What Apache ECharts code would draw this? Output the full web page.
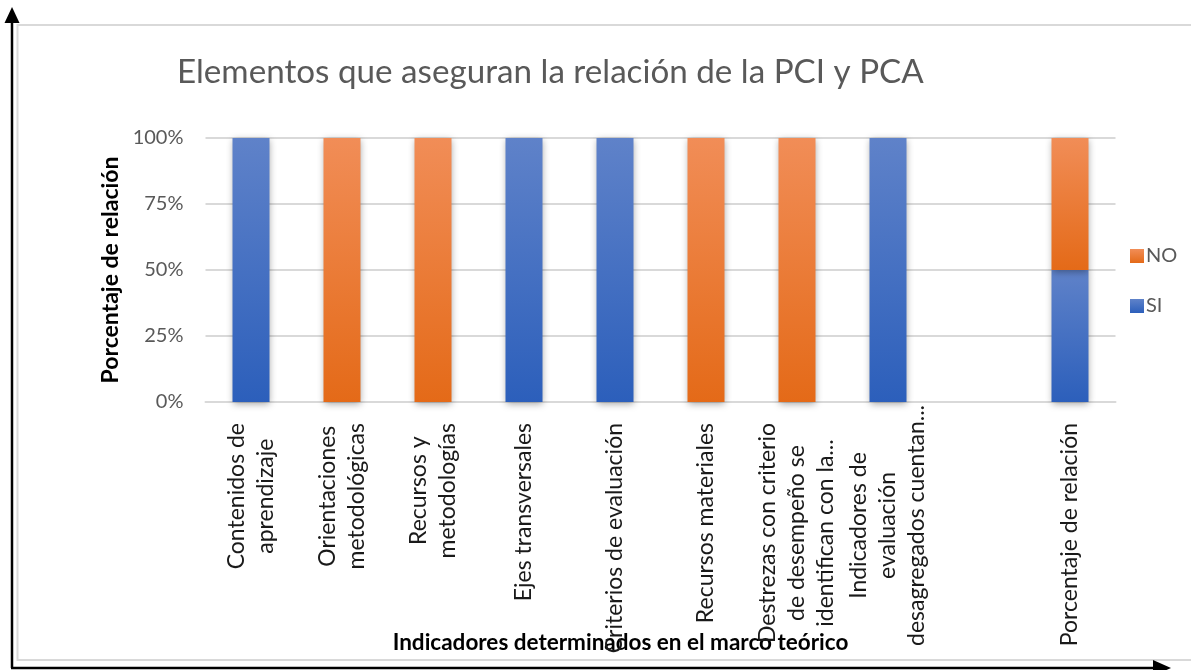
<!DOCTYPE html>
<html>
<head>
<meta charset="utf-8">
<script src="https://cdn.jsdelivr.net/npm/echarts@6/dist/echarts.min.js"></script>
<style>
  html, body { margin: 0; padding: 0; background: #ffffff; }
  #chart { width: 1191px; height: 670px; }
</style>
</head>
<body>
<div id="chart"></div>
<script>
// Indicators read from the theoretical framework (empty slot separates the summary column)
const categories = [
  'Contenidos de\naprendizaje',
  'Orientaciones\nmetodológicas',
  'Recursos y\nmetodologías',
  'Ejes transversales',
  'Criterios de evaluación',
  'Recursos materiales',
  'Destrezas con criterio\nde desempeño se\nidentifican con la...',
  'Indicadores de\nevaluación\ndesagregados cuentan...',
  '',
  'Porcentaje de relación'
];
const siValues = [100, 0, 0, 100, 100, 0, 0, 100, null, 50];
const noValues = [0, 100, 100, 0, 0, 100, 100, 0, null, 50];
const yTicks = [0, 25, 50, 75, 100];

const FONT = 'Lato, "Open Sans", sans-serif';

function grad(top, bottom) {
  return new echarts.graphic.LinearGradient(0, 0, 0, 1, [
    { offset: 0, color: top },
    { offset: 1, color: bottom }
  ]);
}

const barShadow = {
  shadowBlur: 7,
  shadowColor: 'rgba(0,0,0,0.35)',
  shadowOffsetX: 0,
  shadowOffsetY: 2
};

const labelBase = { align: 'center', fontFamily: FONT, fontSize: 23, lineHeight: 29, color: '#1a1a1a' };

const chart = echarts.init(document.getElementById('chart'), null, { renderer: 'canvas' });

chart.setOption({
  backgroundColor: '#ffffff',
  animation: false,
  title: {
    text: 'Elementos que aseguran la relación de la PCI y PCA',
    left: 172,
    top: 51,
    textStyle: { fontFamily: FONT, fontWeight: 'normal', fontSize: 33.2, color: '#595959' }
  },
  legend: {
    data: ['NO', 'SI'],
    orient: 'vertical',
    left: 1125,
    top: 240,
    itemWidth: 14,
    itemHeight: 14,
    itemGap: 28,
    icon: 'rect',
    itemStyle: { shadowBlur: 0, shadowOffsetY: 0 },
    textStyle: { fontFamily: FONT, fontSize: 20, color: '#595959', lineHeight: 22, padding: [0, 0, 0, -3] }
  },
  grid: {
    left: 205.5, right: 75.5, top: 138, bottom: 268,
    containLabel: false,
    outerBoundsMode: 'none'
  },
  xAxis: {
    type: 'category',
    data: categories,
    name: 'Indicadores determinados en el marco teórico',
    nameLocation: 'middle',
    nameGap: 229,
    nameMoveOverlap: false,
    nameTextStyle: {
      fontFamily: FONT, fontWeight: 'bold', fontSize: 22.5, color: '#000000',
      padding: [0, 80, 0, 0]
    },
    axisLine: { show: true, lineStyle: { color: '#d9d9d9', width: 2 } },
    axisTick: { show: false },
    axisLabel: {
      interval: 0,
      rotate: 90,
      margin: 2,
      formatter: function (v, i) {
        if (!v) return '';
        // the long three-line label sits closer to the axis so it fits the label band
        const key = v.indexOf('desagregados') >= 0 ? 'tight' : 'c';
        return v.split('\n').map(function (s) { return '{' + key + '|' + s + '}'; }).join('\n');
      },
      rich: {
        c: Object.assign({ padding: [0, 19, 0, 0] }, labelBase),
        tight: Object.assign({ padding: [0, 1, 0, 0] }, labelBase)
      }
    }
  },
  yAxis: {
    type: 'value',
    min: yTicks[0],
    max: yTicks[yTicks.length - 1],
    interval: 25,
    name: 'Porcentaje de relación',
    nameLocation: 'middle',
    nameRotate: 90,
    nameGap: 83,
    nameMoveOverlap: false,
    nameTextStyle: { fontFamily: FONT, fontWeight: 'bold', fontSize: 23, color: '#000000' },
    axisLine: { show: false },
    axisTick: { show: false },
    axisLabel: {
      margin: 22,
      fontFamily: FONT,
      fontSize: 20,
      color: '#595959',
      formatter: '{value}%'
    },
    splitLine: { show: true, lineStyle: { color: '#d9d9d9', width: 2 } }
  },
  series: [
    {
      name: 'SI',
      type: 'bar',
      stack: 'total',
      barWidth: 37,
      data: siValues,
      itemStyle: Object.assign({ color: grad('#5f82c9', '#2c5fbb') }, barShadow)
    },
    {
      name: 'NO',
      type: 'bar',
      stack: 'total',
      barWidth: 37,
      data: noValues,
      itemStyle: Object.assign({ color: grad('#f18d57', '#e46a18') }, barShadow)
    }
  ],
  graphic: [
    // light frame of the chart area
    {
      type: 'rect',
      shape: { x: 17.5, y: 25, width: 1200, height: 635 },
      style: { fill: 'none', stroke: '#d9d9d9', lineWidth: 2 },
      silent: true
    },
    // vertical black arrow
    {
      type: 'line',
      shape: { x1: 12, y1: 668, x2: 12, y2: 20 },
      style: { stroke: '#000000', lineWidth: 2.5 },
      silent: true
    },
    {
      type: 'polygon',
      shape: { points: [[12, 7], [4.5, 23], [19.5, 23]] },
      style: { fill: '#000000' },
      silent: true
    },
    // horizontal black arrow
    {
      type: 'line',
      shape: { x1: 11, y1: 668, x2: 1156, y2: 668 },
      style: { stroke: '#000000', lineWidth: 2.5 },
      silent: true
    },
    {
      type: 'polygon',
      shape: { points: [[1171, 668], [1153, 660], [1153, 676]] },
      style: { fill: '#000000' },
      silent: true
    }
  ]
});
</script>
</body>
</html>
